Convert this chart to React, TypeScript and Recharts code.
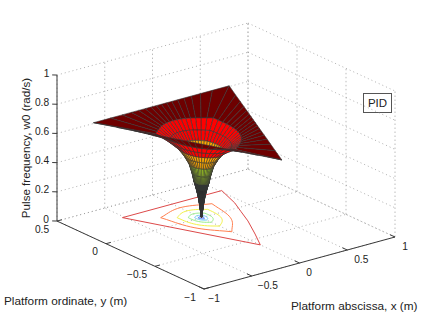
import React from "react";
import { ScatterChart, Scatter, XAxis, YAxis } from "recharts";

// --- values (platform coordinates in metres, frequency in rad/s) ---
const xTicks = [-1, -0.5, 0, 0.5, 1];
const yTicks = [-1, -0.5, 0, 0.5];
const zTicks = [0, 0.2, 0.4, 0.6, 0.8, 1];
const xTickLabels = ["−1", "−0.5", "0", "0.5", "1"];
const yTickLabels = ["−1", "−0.5", "0", "0.5"];
const zTickLabels = ["0", "0.2", "0.4", "0.6", "0.8", "1"];

// radial rings of the surface: radius at a side middle, radius at a triangle corner, height
const ringMid = [0, 0.008, 0.016, 0.026, 0.04, 0.055, 0.07, 0.09, 0.125, 0.165, 0.22, 0.29, 0.41];
const ringCorner = [0, 0.008, 0.016, 0.026, 0.04, 0.055, 0.07, 0.092, 0.13, 0.175, 0.25, 0.35, 0.82];
const ringHeight = [0, 0.05, 0.1, 0.15, 0.2, 0.245, 0.305, 0.365, 0.42, 0.47, 0.52, 0.575, 0.65];
// how far each angular step (7.5 degrees) leans from a side's middle to a corner
const sideWeights = [1, 0.641, 0.414, 0.261, 0.155, 0.082, 0.035, 0.008, 0, 0.008, 0.035, 0.082, 0.155, 0.261, 0.414, 0.641];
const angleWeights = [...sideWeights, ...sideWeights, ...sideWeights];
const angleStart = 30;
const angleStep = 7.5;

const bandTops = [0.12, 0.2, 0.245, 0.305, 0.365, 0.47, 0.575, 1];
const bandColors = ["#0a0a12", "#101414", "#2a3a30", "#9ccc20", "#b8ec1e", "#ffa800", "#ff0000", "#6e0000"];

// contours on the floor
const redContourX = [-0.52, 0.52, 0.43, 0.35, 0.26, 0.12, 0, -0.52];
const redContourY = [0.3, 0.3, 0.08, -0.06, -0.22, -0.43, -0.6, 0.3];
const contourMid = [0.22, 0.15, 0.085, 0.045, 0.02];
const contourCorner = [0.31, 0.185, 0.1, 0.052, 0.025];
const contourColors = ["#ff7f50", "#f2f24a", "#98ee88", "#70d0f0", "#3a6cff"];

// --- a fixed view of the 3-D box turned into the chart's plane ---
const W = 436;
const H = 325;
type P = { x: number; y: number };
const project = (x: number, y: number, z: number): P => ({
  x: 204 + 95.5 * (x + 1) - 98 * (y + 1),
  y: H - (289 - 26 * (x + 1) - 45.3 * (y + 1) - 146 * z),
});
const depth = (x: number, y: number, z: number) => 14308 * x + 13943 * y - 6874 * z;

const vertex = (ring: number, a: number) => {
  const n = angleWeights.length;
  const i = ((a % n) + n) % n;
  const r = ringMid[ring] + angleWeights[i] * (ringCorner[ring] - ringMid[ring]);
  const t = ((angleStart + i * angleStep) * Math.PI) / 180;
  return { x: r * Math.cos(t), y: r * Math.sin(t), z: ringHeight[ring] };
};

const colorFor = (z: number) => bandColors[bandTops.findIndex((t) => z <= t)];

const quads = (() => {
  const out: any[] = [];
  for (let ring = 0; ring < ringMid.length - 1; ring++) {
    for (let a = 0; a < angleWeights.length; a++) {
      const vs = [vertex(ring, a), vertex(ring, a + 1), vertex(ring + 1, a + 1), vertex(ring + 1, a)];
      const mx = vs.reduce((s, v) => s + v.x, 0) / 4;
      const my = vs.reduce((s, v) => s + v.y, 0) / 4;
      const mz = vs.reduce((s, v) => s + v.z, 0) / 4;
      const c = project(mx, my, mz);
      out.push({
        x: c.x,
        y: c.y,
        d: depth(mx, my, mz),
        fill: colorFor((ringHeight[ring] + ringHeight[ring + 1]) / 2),
        pts: vs.map((v) => project(v.x, v.y, v.z)),
      });
    }
  }
  return out.sort((p, q) => q.d - p.d);
})();

const NoMark = () => <g />;
const QuadMark = (props: any) => {
  const { cx, cy, payload } = props;
  const pts = payload.pts
    .map((p: P) => `${(cx + p.x - payload.x).toFixed(2)},${(cy - (p.y - payload.y)).toFixed(2)}`)
    .join(" ");
  return <polygon points={pts} fill={payload.fill} stroke="#363636" strokeWidth={0.6} strokeLinejoin="round" />;
};

const FONT = "'Liberation Sans', Arial, sans-serif";
const TickMark = (props: any) => {
  const { cx, cy, payload } = props;
  return (
    <text x={cx + payload.dx} y={cy + payload.dy} textAnchor="middle" dominantBaseline="central" fontFamily={FONT} fontSize={10.2} fill="#222">
      {payload.label}
    </text>
  );
};

const seg = (a: P, b: P) => [a, b];
const dotted = { stroke: "#9a9a9a", strokeWidth: 0.8, strokeDasharray: "1 3" };
const dottedV = { stroke: "#bcbcbc", strokeWidth: 1, strokeDasharray: "1.5 2.5" };
const solid = { stroke: "#3a3a3a", strokeWidth: 1 };

const gridLines: { pts: P[]; style: any }[] = [];
const Y0 = yTicks[0];
const Y1 = yTicks[yTicks.length - 1];
const X0 = xTicks[0];
const X1 = xTicks[xTicks.length - 1];
xTicks.forEach((x) => {
  gridLines.push({ pts: seg(project(x, Y0, 0), project(x, Y1, 0)), style: dotted });
  gridLines.push({ pts: seg(project(x, Y1, 0), project(x, Y1, 1)), style: dottedV });
});
yTicks.forEach((y) => {
  gridLines.push({ pts: seg(project(X0, y, 0), project(X1, y, 0)), style: dotted });
  gridLines.push({ pts: seg(project(X1, y, 0), project(X1, y, 1)), style: dottedV });
});
zTicks.forEach((z) => {
  gridLines.push({ pts: seg(project(X0, Y1, z), project(X1, Y1, z)), style: dotted });
  gridLines.push({ pts: seg(project(X1, Y1, z), project(X1, Y0, z)), style: dotted });
});

const axisLines: P[][] = [
  seg(project(X0, Y1, 0), project(X0, Y1, 1)),
  seg(project(X0, Y1, 0), project(X0, Y0, 0)),
  seg(project(X0, Y0, 0), project(X1, Y0, 0)),
];
xTicks.forEach((x) => axisLines.push(seg(project(x, Y0, 0), project(x, Y0 + 0.05, 0))));
yTicks.forEach((y) => axisLines.push(seg(project(X0, y, 0), project(X0 + 0.05, y, 0))));
zTicks.forEach((z) => axisLines.push(seg(project(X0, Y1, z), project(X0 - 0.03, Y1 + 0.02, z))));

const xLabelShift = [10, 16, 9.5, 14, 10];
const yLabelShift = [-14, -18, -11, -15];
const zLabelShift = [-11, -15, -15, -15, -15, -10.5];
const tickData = [
  ...xTicks.map((x, i) => ({ ...project(x, Y0, 0), label: xTickLabels[i], dx: xLabelShift[i], dy: 9 })),
  ...yTicks.map((y, i) => ({ ...project(X0, y, 0), label: yTickLabels[i], dx: yLabelShift[i], dy: 8 })),
  ...zTicks.map((z, i) => ({ ...project(X0, Y1, z), label: zTickLabels[i], dx: zLabelShift[i], dy: -2 })),
];

const contourLines: { pts: P[]; color: string }[] = [
  { pts: redContourX.map((x, i) => project(x, redContourY[i], 0)), color: "#dd4a4a" },
  ...contourMid.map((m, c) => {
    const pts: P[] = [];
    for (let a = 0; a <= angleWeights.length; a++) {
      const i = a % angleWeights.length;
      const r = m + angleWeights[i] * (contourCorner[c] - m);
      const t = ((angleStart + i * angleStep) * Math.PI) / 180;
      pts.push(project(r * Math.cos(t), r * Math.sin(t), 0));
    }
    return { pts, color: contourColors[c] };
  }),
];

export default function App() {
  return (
    <div style={{ position: "absolute", left: 0, top: 0, width: W, height: H, background: "#fff" }}>
      <ScatterChart width={W} height={H} margin={{ top: 0, right: 0, bottom: 0, left: 0 }}>
        <XAxis type="number" dataKey="x" domain={[0, W]} hide />
        <YAxis type="number" dataKey="y" domain={[0, H]} hide />
        {gridLines.map((g, i) => (
          <Scatter key={`g${i}`} data={g.pts} line={g.style} shape={NoMark} isAnimationActive={false} />
        ))}
        {axisLines.map((pts, i) => (
          <Scatter key={`a${i}`} data={pts} line={solid} shape={NoMark} isAnimationActive={false} />
        ))}
        {contourLines.map((c, i) => (
          <Scatter key={`c${i}`} data={c.pts} line={{ stroke: c.color, strokeWidth: 1 }} shape={NoMark} isAnimationActive={false} />
        ))}
        <Scatter data={quads} shape={QuadMark} isAnimationActive={false} />
        <Scatter data={tickData} shape={TickMark} isAnimationActive={false} />
        <rect x={363.5} y={93.5} width={28} height={19} fill="#fff" stroke="#555" strokeWidth={1} />
        <text x={377.5} y={102.5} textAnchor="middle" dominantBaseline="central" fontFamily={FONT} fontSize={11.5} fill="#222">PID</text>
        <text x={4} y={301} dominantBaseline="central" fontFamily={FONT} fontSize={11.8} fill="#222">Platform ordinate, y (m)</text>
        <text x={291} y={306} dominantBaseline="central" fontFamily={FONT} fontSize={11.8} fill="#222">Platform abscissa, x (m)</text>
        <text x={25} y={148} textAnchor="middle" dominantBaseline="central" transform="rotate(-90 25 148)" fontFamily={FONT} fontSize={11.6} fill="#222">Pulse frequency, w0 (rad/s)</text>
      </ScatterChart>
    </div>
  );
}
